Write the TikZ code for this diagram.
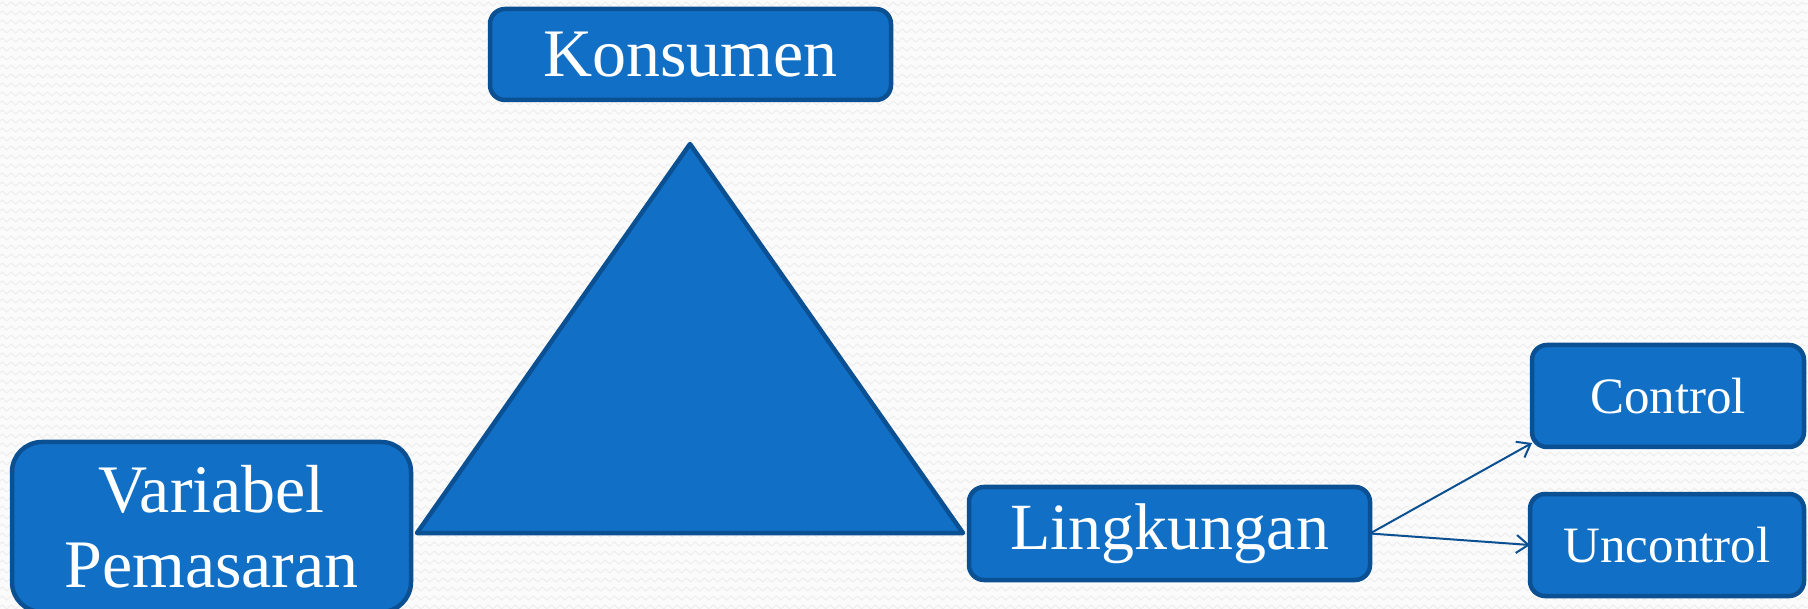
\documentclass[tikz,border=0pt]{standalone}
\usepackage{fontspec}
\setmainfont{Liberation Serif}
\usetikzlibrary{arrows.meta,decorations.pathmorphing}
\definecolor{boxfill}{RGB}{17,112,198}
\definecolor{boxline}{RGB}{11,80,146}
\definecolor{bgcol}{RGB}{251,251,251}
\definecolor{wavecol}{RGB}{238,238,238}
\tikzset{
  blockbox/.style={draw=boxline, fill=boxfill, line width=4.5pt, text=white,
    inner sep=0pt, outer sep=0pt, align=center},
  bigtext/.style={font=\fontsize{68}{75}\selectfont},
  midtext/.style={font=\fontsize{66}{72}\selectfont},
  smalltext/.style={font=\fontsize{51}{56}\selectfont},
  tri/.style={draw=boxline, fill=boxfill, line width=4.5pt, line join=round},
  link/.style={draw=boxline, line width=2pt, -{Straight Barb[length=12pt,width=18pt,line width=2pt]}},
  wave/.style={draw=wavecol, line width=1pt, decorate, decoration={zigzag, segment length=9pt, amplitude=2pt}}
}
\begin{document}
\begin{tikzpicture}[x=1pt,y=-1pt]
\useasboundingbox (0,0) rectangle (1808,609);
\fill[bgcol] (0,0) rectangle (1808,609);
\foreach \yy in {4,13,...,609} {
  \draw[wave] (0,\yy) -- (1808,\yy);
}
% triangle
\coordinate (tl) at (417,533);
\coordinate (tt) at (690,144);
\coordinate (tr) at (963,533);
\draw[tri] (tl) -- (tt) -- (tr) -- cycle;
% boxes
\node[blockbox, bigtext, rounded corners=15pt, minimum width=401pt, minimum height=91pt] (kons) at (690.5,54.5) {Konsumen};
\node[blockbox, bigtext, rounded corners=30pt, minimum width=399pt, minimum height=170pt] (var) at (211.5,527) {Variabel\\Pemasaran};
\node[blockbox, midtext, rounded corners=15pt, minimum width=401pt, minimum height=93pt] (ling) at (1169.5,533.5) {Lingkungan};
\node[blockbox, smalltext, rounded corners=15pt, minimum width=272pt, minimum height=102pt] (ctrl) at (1668,396) {Control};
\node[blockbox, smalltext, rounded corners=15pt, minimum width=274pt, minimum height=102pt] (unc) at (1667,545) {Uncontrol};
% connectors
\coordinate (ctrlin) at ([yshift=4pt]ctrl.south west);
\draw[link] (ling.east) -- (ctrlin);
\draw[link] (ling.east) -- (unc.west);
\end{tikzpicture}
\end{document}
